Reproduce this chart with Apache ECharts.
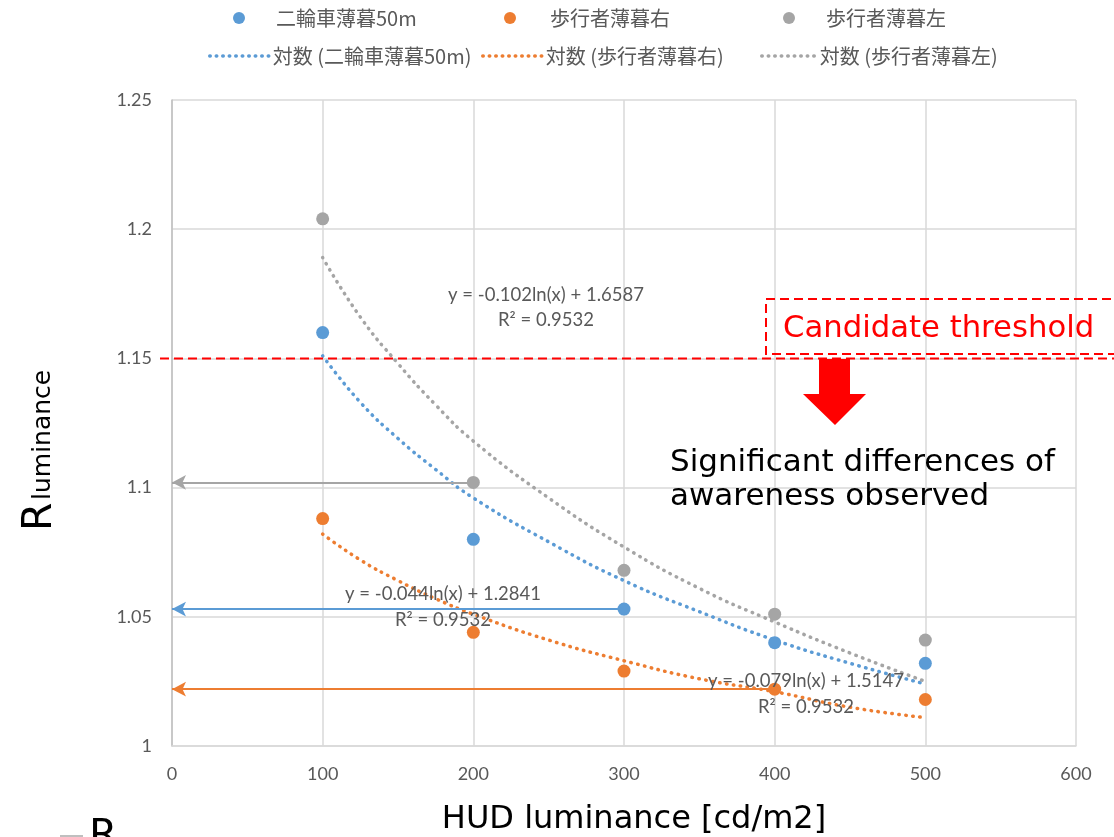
<!DOCTYPE html>
<html>
<head>
<meta charset="utf-8">
<script src="https://cdn.jsdelivr.net/npm/echarts@6/dist/echarts.min.js"></script>
<style>
html,body{margin:0;padding:0;background:#fff;}
#main{width:1114px;height:837px;}
</style>
</head>
<body>
<div id="main"></div>
<script>
// ---- data ----
const xValues = [100, 200, 300, 400, 500];
const bikeValues = [1.160, 1.080, 1.053, 1.040, 1.032];      // 二輪車薄暮50m
const pedRightValues = [1.088, 1.044, 1.029, 1.022, 1.018];  // 歩行者薄暮右
const pedLeftValues = [1.204, 1.102, 1.068, 1.051, 1.041];   // 歩行者薄暮左

// trend curves (logarithmic fits)
const trendX = [100, 125, 150, 175, 200, 250, 300, 350, 400, 450, 500];
const bikeTrend = [1.151, 1.133, 1.119, 1.107, 1.096, 1.079, 1.064, 1.052, 1.041, 1.032, 1.024];
const pedRightTrend = [1.082, 1.072, 1.064, 1.057, 1.051, 1.041, 1.033, 1.026, 1.021, 1.015, 1.011];
const pedLeftTrend = [1.189, 1.166, 1.148, 1.132, 1.118, 1.096, 1.077, 1.061, 1.048, 1.036, 1.025];

const seriesNames = ['二輪車薄暮50m', '歩行者薄暮右', '歩行者薄暮左'];
const trendNames = ['対数 (二輪車薄暮50m)', '対数 (歩行者薄暮右)', '対数 (歩行者薄暮左)'];
const equations = [
  ['y = -0.079ln(x) + 1.5147', 'R² = 0.9532'],
  ['y = -0.044ln(x) + 1.2841', 'R² = 0.9532'],
  ['y = -0.102ln(x) + 1.6587', 'R² = 0.9532']
];
const xTicks = { min: 0, max: 600, interval: 100 };
const yTicks = { min: 1, max: 1.25, interval: 0.05 };
const thresholdValue = 1.15;
const arrowFrom = [[300, 1.053], [400, 1.022], [200, 1.102]]; // bike, pedRight, pedLeft

const colors = ['#5b9bd5', '#ed7d31', '#a5a5a5'];
const txtColor = '#595959';
const zip = (xs, ys) => xs.map((x, i) => [x, ys[i]]);

const chart = echarts.init(document.getElementById('main'));

const scatterData = [bikeValues, pedRightValues, pedLeftValues];
const trendData = [bikeTrend, pedRightTrend, pedLeftTrend];

const series = [];
for (let i = 0; i < 3; i++) {
  series.push({
    name: trendNames[i],
    type: 'line',
    data: zip(trendX, trendData[i]),
    smooth: true,
    symbol: 'none',
    clip: false,
    color: colors[i],
    lineStyle: { color: colors[i], width: 3.5, type: [0.5, 6.5], cap: 'round' },
    z: 2
  });
}
for (let i = 0; i < 3; i++) {
  series.push({
    name: seriesNames[i],
    type: 'scatter',
    data: zip(xValues, scatterData[i]),
    symbolSize: 13,
    clip: false,
    color: colors[i],
    itemStyle: { color: colors[i], opacity: 1 },
    markLine: {
      silent: true,
      symbol: ['none', 'arrow'],
      symbolSize: [11, 14],
      label: { show: false },
      emphasis: { disabled: true },
      lineStyle: { color: colors[i], width: 2, type: 'solid' },
      data: [[{ coord: arrowFrom[i] }, { coord: [0, arrowFrom[i][1]] }]]
    },
    z: 3
  });
}

function legend(name, left, top, isLine, w, pad) {
  return {
    data: [name],
    left: left,
    top: top,
    padding: 0,
    selectedMode: false,
    itemWidth: isLine ? w : 12,
    itemHeight: isLine ? 4 : 12,
    itemStyle: isLine ? { opacity: 0 } : {},
    lineStyle: isLine ? { width: 3.5, type: [0.5, 6], cap: 'round' } : {},
    textStyle: {
      color: txtColor, fontSize: 20, fontFamily: '"Noto Sans CJK JP", Lato, sans-serif',
      padding: [0, 0, 0, pad]
    }
  };
}

const eqFont = '18.5px Lato, sans-serif';
const eqPos = [[806, 681, 707], [443, 594, 620], [546, 295, 320]];
const graphics = [];
for (let i = 0; i < 3; i++) {
  graphics.push({ type: 'text', x: eqPos[i][0], y: eqPos[i][1], z: 10,
    style: { text: equations[i][0], font: eqFont, fill: txtColor, align: 'center', verticalAlign: 'middle' } });
  graphics.push({ type: 'text', x: eqPos[i][0], y: eqPos[i][2], z: 10,
    style: { text: equations[i][1], font: eqFont, fill: txtColor, align: 'center', verticalAlign: 'middle' } });
}
// threshold box
graphics.push({ type: 'rect', shape: { x: 766, y: 299, width: 400, height: 55 }, z: 9,
  style: { fill: 'none', stroke: '#ff0000', lineWidth: 2, lineDash: [9, 5] } });
graphics.push({ type: 'text', x: 783, y: 329, z: 10,
  style: { text: 'Candidate threshold', font: '30.7px "DejaVu Sans", sans-serif', fill: '#ff0000', align: 'left', verticalAlign: 'middle' } });
// block arrow
graphics.push({ type: 'polygon', z: 10,
  shape: { points: [[819, 359], [850, 359], [850, 394], [866, 394], [835, 425], [803, 394], [819, 394]] },
  style: { fill: '#ff0000' } });
graphics.push({ type: 'text', x: 670, y: 463, z: 10,
  style: { text: 'Significant differences of', font: '31px "DejaVu Sans", sans-serif', fill: '#000', align: 'left', verticalAlign: 'middle' } });
graphics.push({ type: 'text', x: 670, y: 497, z: 10,
  style: { text: 'awareness observed', font: '31px "DejaVu Sans", sans-serif', fill: '#000', align: 'left', verticalAlign: 'middle' } });
// y axis title with subscript
graphics.push({ type: 'group', x: 0, y: 528, rotation: Math.PI / 2, z: 10, children: [
  { type: 'text', x: -3, y: 40, style: { text: 'R', font: '41px "DejaVu Sans", sans-serif', fill: '#000', align: 'left', verticalAlign: 'middle' } },
  { type: 'text', x: 28, y: 43, style: { text: 'luminance', font: '25px "DejaVu Sans", sans-serif', fill: '#000', align: 'left', verticalAlign: 'middle' } }
] });
// cropped fragment at the bottom-left edge
graphics.push({ type: 'line', shape: { x1: 60, y1: 836, x2: 83, y2: 836 }, style: { stroke: '#bfbfbf', lineWidth: 2 } });
graphics.push({ type: 'text', x: 89, y: 817, style: { text: 'R', font: '41px "DejaVu Sans", sans-serif', fill: '#000', align: 'left', verticalAlign: 'top' } });

const option = {
  animation: false,
  backgroundColor: '#fff',
  color: colors,
  grid: { left: 172, right: 38, top: 100, bottom: 91, containLabel: false, outerBoundsMode: 'none' },
  legend: [
    legend(seriesNames[0], 233, 8, false, 12, 26),
    legend(seriesNames[1], 504, 8, false, 12, 29),
    legend(seriesNames[2], 783, 8, false, 12, 26),
    legend(trendNames[0], 208, 46, true, 62, -4),
    legend(trendNames[1], 481, 46, true, 62, -4),
    legend(trendNames[2], 760, 46, true, 55, -2)
  ],
  xAxis: {
    type: 'value', min: xTicks.min, max: xTicks.max, interval: xTicks.interval,
    name: 'HUD luminance [cd/m2]', nameLocation: 'middle', nameGap: 58,
    nameTextStyle: { fontSize: 32, fontFamily: '"DejaVu Sans", sans-serif', color: '#000', padding: [0, 0, 0, 20] },
    axisLine: { show: true, onZero: false, lineStyle: { color: '#d9d9d9', width: 1.5 } },
    axisTick: { show: false },
    axisLabel: { color: txtColor, fontSize: 18, fontFamily: 'Lato, sans-serif', margin: 19 },
    splitLine: { show: true, lineStyle: { color: '#d9d9d9', width: 1.5 } }
  },
  yAxis: {
    type: 'value', min: yTicks.min, max: yTicks.max, interval: yTicks.interval,
    axisLine: { show: true, onZero: false, lineStyle: { color: '#bfbfbf', width: 1.5 } },
    axisTick: { show: false },
    axisLabel: { color: txtColor, fontSize: 18, fontFamily: 'Lato, sans-serif', margin: 20 },
    splitLine: { show: true, lineStyle: { color: '#d9d9d9', width: 1.5 } }
  },
  series: series,
  graphic: graphics
};
chart.setOption(option);

// threshold dashed line, positioned through the axis scale
const thrPt = chart.convertToPixel({ gridIndex: 0 }, [0, thresholdValue]);
graphics.push({ type: 'line', z: 8, silent: true,
  shape: { x1: thrPt[0] - 12, y1: thrPt[1], x2: 1114, y2: thrPt[1] },
  style: { stroke: '#ff0000', lineWidth: 2, lineDash: [9, 5] } });
chart.setOption({ graphic: graphics });
</script>
</body>
</html>
